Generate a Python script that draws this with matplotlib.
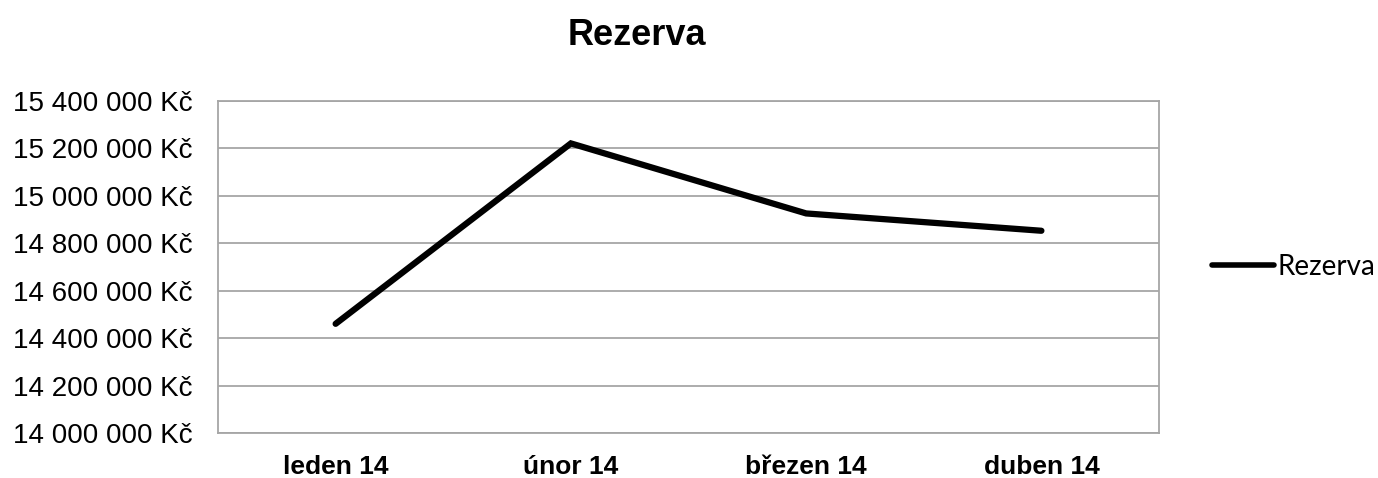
import matplotlib
matplotlib.use("Agg")
import matplotlib.pyplot as plt

# data
months = ["leden 14", "únor 14", "březen 14", "duben 14"]
rezerva = [14_460_000, 15_220_000, 14_925_000, 14_852_000]
yticks = [14_000_000 + i * 200_000 for i in range(8)]


def kc(v):
    # czech style: thousands separated by spaces, "Kč" suffix
    return f"{v:,.0f}".replace(",", " ") + " Kč"


fig = plt.figure(figsize=(13.78, 4.78), dpi=100)
ax = fig.add_axes([0.1582, 0.0941, 0.6829, 0.6953])

x = range(len(months))
ax.plot(x, rezerva, color="black", lw=4.5, solid_capstyle="round",
        solid_joinstyle="miter", label="Rezerva", zorder=3)

ax.set_xlim(-0.5, len(months) - 0.5)
ax.set_ylim(yticks[0], yticks[-1])
ax.set_yticks(yticks)
ax.set_yticklabels([kc(v) for v in yticks], fontfamily="Liberation Sans", fontsize=20)
ax.set_xticks(list(x))
ax.set_xticklabels(months, fontfamily="Liberation Sans", fontsize=19, fontweight="bold")
ax.tick_params(axis="both", length=0)
ax.tick_params(axis="y", pad=18)
ax.tick_params(axis="x", pad=16)

ax.grid(axis="y", color="#a6a6a6", lw=1.3)
ax.set_axisbelow(True)
for s in ax.spines.values():
    s.set_color("#a6a6a6")
    s.set_linewidth(1.3)

fig.text(0.462, 0.925, "Rezerva", ha="center", va="center",
         fontfamily="Liberation Sans", fontsize=26, fontweight="bold")

leg = ax.legend(loc="center left", bbox_to_anchor=(1.045, 0.5), frameon=False,
                prop={"family": "Lato", "size": 20}, handlelength=2.2,
                handletextpad=0.15, borderaxespad=0)
for h in leg.get_lines():
    h.set_linewidth(4)

fig.savefig("out.png", dpi=100, facecolor="white")
